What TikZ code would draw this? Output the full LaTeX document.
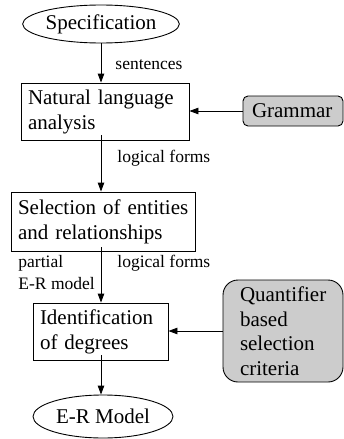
\documentclass[tikz,border=0pt]{standalone}
\usepackage{fontspec}
\setmainfont{Liberation Serif}
\usetikzlibrary{arrows.meta,shapes.geometric}
\begin{document}
\begin{tikzpicture}[x=1pt,y=-1pt,
  line width=0.9pt,
  arr/.style={-{Triangle[length=9pt,width=6.5pt]}},
  big/.style={font=\fontsize{21}{25}\selectfont},
  small/.style={font=\fontsize{17.5}{22}\selectfont, inner sep=0pt},
  ell/.style={draw, ellipse, inner sep=0pt, big},
  procbox/.style={draw, big, align=left, inner xsep=7pt, inner ysep=0pt, anchor=center},
  gbox/.style={draw, fill=black!20, rounded corners=5pt, big, align=left, inner ysep=0pt}
]
\useasboundingbox (0,0) rectangle (343,439);
\node[ell, minimum width=150pt, minimum height=38pt] (spec) at (101,24) {Specification};
\node[procbox, minimum width=168pt, minimum height=57pt, text width=154pt] (nat) at (105,111.5) {\mbox{Natural language}\\\mbox{analysis}};
\node[gbox, minimum width=100pt, minimum height=30pt, text width=82pt, inner xsep=9pt] (gram) at (293,111) {\mbox{Grammar}};
\node[procbox, minimum width=184pt, minimum height=59pt, text width=170pt] (sel) at (103,221.5) {\mbox{Selection of entities}\\\mbox{and relationships}};
\node[procbox, minimum width=135pt, minimum height=57pt, text width=121pt] (ident) at (100.5,331.5) {\mbox{Identification}\\\mbox{of degrees}};
\node[gbox, rounded corners=15pt, minimum width=120pt, minimum height=102pt, text width=86pt, inner xsep=17pt, font=\fontsize{21}{24.5}\selectfont] (quant) at (283,331) {\mbox{Quantifier}\\\mbox{based}\\\mbox{selection}\\\mbox{criteria}};
\node[ell, minimum width=140pt, minimum height=43pt] (er) at (103,416.5) {E-R Model};

\node[small, anchor=west] (l1) at (115,65) {sentences};
\node[small, anchor=west] (l2) at (117,158) {logical forms};
\node[small, anchor=west] (l3) at (117,263) {logical forms};
\node[small, anchor=north west, align=left, font=\fontsize{17.5}{22}\selectfont] (l4) at (18,255) {partial\\E-R model};

\draw[arr] (spec.south) -- (spec.south |- nat.north);
\draw[arr] ([yshift=5pt]nat.south -| spec.south) -- (sel.north -| spec.south);
\draw[arr] ([yshift=4pt]sel.south -| spec.south) -- (ident.north -| spec.south);
\draw[arr] ([yshift=5pt]ident.south -| spec.south) -- (er.north -| spec.south);
\draw[arr] (gram.west) -- (gram.west -| nat.east);
\draw[arr] (quant.west) -- (quant.west -| ident.east);
\end{tikzpicture}
\end{document}
